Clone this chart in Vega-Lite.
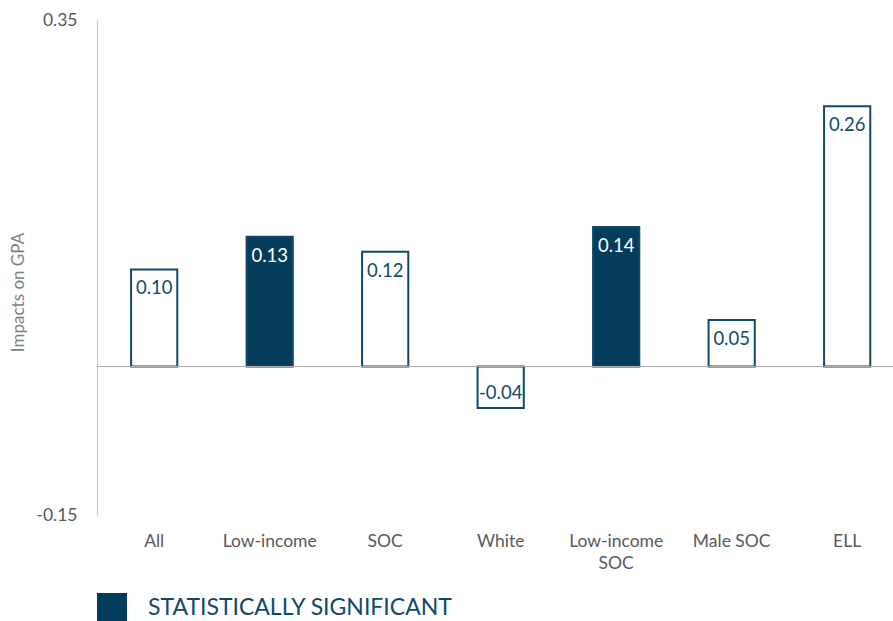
{
  "$schema": "https://vega.github.io/schema/vega-lite/v6.json",
  "autosize": {"type": "none"},
  "width": 796,
  "height": 495,
  "padding": {"left": 97, "top": 20, "right": 0, "bottom": 106},
  "background": "white",
  "config": {"view": {"stroke": null}, "font": "Lato"},
  "data": {"values": [
    {"group": "All", "value": 0.098, "label": "0.10", "sig": "Not significant"},
    {"group": "Low-income", "value": 0.131, "label": "0.13", "sig": "STATISTICALLY SIGNIFICANT"},
    {"group": "SOC", "value": 0.116, "label": "0.12", "sig": "Not significant"},
    {"group": "White", "value": -0.042, "label": "-0.04", "sig": "Not significant"},
    {"group": "Low-income SOC", "value": 0.141, "label": "0.14", "sig": "STATISTICALLY SIGNIFICANT"},
    {"group": "Male SOC", "value": 0.047, "label": "0.05", "sig": "Not significant"},
    {"group": "ELL", "value": 0.263, "label": "0.26", "sig": "Not significant"}
  ]},
  "encoding": {
    "x": {
      "field": "group", "type": "nominal", "sort": null,
      "scale": {"paddingInner": 0.6, "paddingOuter": 0.246, "align": 0.6},
      "axis": {
        "title": null, "domain": false, "ticks": false, "labelAngle": 0,
        "labelFontSize": 17.5, "labelColor": "#595959", "labelPadding": 17,
        "labelLineHeight": 22,
        "labelExpr": "datum.label == 'Low-income SOC' ? ['Low-income', 'SOC'] : datum.label"
      }
    },
    "y": {
      "field": "value", "type": "quantitative",
      "scale": {"domain": [-0.15, 0.35], "nice": false, "zero": false},
      "axis": {
        "values": [-0.15, 0.35], "ticks": false, "grid": false,
        "labelExpr": "datum.value < 0 ? '-' + format(-datum.value, '.2f') : format(datum.value, '.2f')",
        "domainColor": "#c8c8c8", "domainWidth": 1.2,
        "labelFontSize": 17.5, "labelColor": "#595959", "labelPadding": 20,
        "labelBaseline": "middle",
        "title": "Impacts on GPA", "titleFontSize": 17, "titleFontWeight": "normal",
        "titleColor": "#7f7f7f", "titleX": -79, "titleY": 272, "titleAngle": -90,
        "titleAlign": "center", "titleBaseline": "middle"
      }
    }
  },
  "layer": [
    {
      "mark": {"type": "bar", "stroke": "#0f4a6a", "strokeWidth": 2},
      "encoding": {
        "fill": {
          "field": "sig", "type": "nominal",
          "scale": {"domain": ["STATISTICALLY SIGNIFICANT", "Not significant"], "range": ["#043d5c", "#ffffff"]},
          "legend": {
            "values": ["STATISTICALLY SIGNIFICANT"], "title": null, "orient": "none",
            "legendX": 0, "legendY": 573, "symbolType": "square", "symbolSize": 900,
            "symbolStrokeWidth": 0, "labelFontSize": 23, "labelColor": "#0f4a6a",
            "labelOffset": 21, "labelFont": "Lato", "labelLimit": 0, "padding": 0
          }
        }
      }
    },
    {
      "mark": {"type": "rule", "color": "#ababab", "strokeWidth": 1.2},
      "encoding": {"y": {"datum": 0, "type": "quantitative"}, "x": {"value": 0}, "x2": {"value": 796}}
    },
    {
      "transform": [{"filter": "datum.value >= 0"}],
      "mark": {"type": "text", "fontSize": 18.5, "baseline": "middle", "dy": 19},
      "encoding": {
        "text": {"field": "label", "type": "nominal"},
        "color": {
          "condition": {"test": "datum.sig == 'STATISTICALLY SIGNIFICANT'", "value": "#ffffff"},
          "value": "#0f4a6a"
        }
      }
    },
    {
      "transform": [{"filter": "datum.value < 0"}],
      "mark": {"type": "text", "fontSize": 18.5, "baseline": "middle", "dy": -15, "color": "#0f4a6a"},
      "encoding": {
        "text": {"field": "label", "type": "nominal"}
      }
    }
  ]
}
